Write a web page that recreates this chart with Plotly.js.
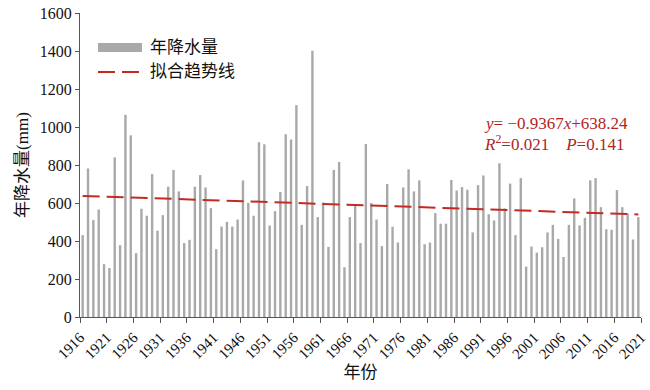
<!DOCTYPE html>
<html>
<head>
<meta charset="utf-8">
<script src="https://cdn.plot.ly/plotly-3.0.1.min.js"></script>
<style>html,body{margin:0;padding:0;background:#fff;}#chart{width:650px;height:390px;}</style>
</head>
<body>
<div id="chart"></div>
<script>
// Annual precipitation (mm), 1916-2020 (105 years)
const startYear = 1916;
const precipitation = [
  431, 782, 510, 566, 278, 258, 840, 378, 1064, 956,
  336, 570, 533, 752, 454, 536, 686, 774, 661, 389,
  406, 686, 747, 682, 573, 357, 476, 501, 476, 513,
  719, 601, 533, 920, 909, 482, 557, 658, 962, 934,
  1115, 485, 689, 1401, 526, 603, 369, 774, 816, 262,
  526, 585, 389, 911, 600, 513, 373, 700, 475, 392,
  682, 777, 661, 719, 383, 392, 547, 491, 491, 721,
  666, 684, 670, 445, 694, 745, 541, 508, 809, 571,
  702, 431, 731, 265, 371, 339, 367, 445, 485, 411,
  316, 485, 624, 482, 522, 719, 731, 578, 462, 459,
  668, 578, 545, 408, 526
];
const years = precipitation.map((v, i) => startYear + i);
// Fitted trend: y = slope * index + intercept (index = 1..n)
const slope = -0.9367;
const intercept = 638.24;
const trendX = [years[0], years[years.length - 1]];
const trendY = [slope * 1 + intercept, slope * precipitation.length + intercept];
// Tick labels (category boundaries every 5 years)
const tickLabels = ['1916','1921','1926','1931','1936','1941','1946','1951','1956','1961','1966','1971','1976','1981','1986','1991','1996','2001','2006','2011','2016','2021'];
const tickVals = tickLabels.map(t => Number(t) - 0.5);

const seriesNames = ['年降水量', '拟合趋势线'];
const barColor = '#a9a9a9';
const trendColor = '#c42a22';
const serif = 'Times New Roman, Liberation Serif, DejaVu Serif, Noto Sans CJK SC, serif';
const cjk = 'Times New Roman, Liberation Serif, DejaVu Serif, Noto Sans CJK SC, serif';

const traces = [
  {
    type: 'bar', x: years, y: precipitation, name: seriesNames[0],
    marker: {color: barColor, line: {width: 0}}, showlegend: false,
    hoverinfo: 'x+y'
  },
  {
    type: 'scatter', mode: 'lines', x: trendX, y: trendY, name: seriesNames[1],
    line: {color: trendColor, width: 2, dash: '17px,7px'}, showlegend: false
  }
];

const layout = {
  width: 650, height: 390,
  margin: {l: 80, r: 9, t: 13, b: 73},
  paper_bgcolor: '#fff', plot_bgcolor: '#fff',
  bargap: 0.55,
  showlegend: false,
  font: {family: serif},
  xaxis: {
    range: [startYear - 0.5, startYear + precipitation.length - 0.5],
    tickmode: 'array', tickvals: tickVals, ticktext: tickLabels,
    tickangle: -45, ticks: 'outside', ticklen: 5, tickcolor: '#555',
    showline: true, linecolor: '#555', linewidth: 1,
    showgrid: false, zeroline: false,
    tickfont: {family: serif, size: 15, color: '#111'},
    title: {text: '年份', font: {family: cjk, size: 17, color: '#111'}, standoff: 4}
  },
  yaxis: {
    range: [0, 1600], dtick: 200, tick0: 0,
    ticks: 'outside', ticklen: 4, tickcolor: '#555',
    showline: true, linecolor: '#555', linewidth: 1,
    showgrid: false, zeroline: false,
    tickfont: {family: serif, size: 16, color: '#111'},
    title: {text: '年降水量(mm)', font: {family: cjk, size: 17, color: '#111'}, standoff: 6}
  },
  shapes: [
    {type: 'rect', xref: 'paper', yref: 'paper', x0: 0.0321, x1: 0.1105, y0: 0.872, y1: 0.901,
     fillcolor: barColor, line: {width: 0}},
    {type: 'line', xref: 'paper', yref: 'paper', x0: 0.0321, x1: 0.108, y0: 0.806, y1: 0.806,
     line: {color: trendColor, width: 2, dash: '17px,7px'}}
  ],
  annotations: [
    {xref: 'paper', yref: 'paper', x: 0.1212, y: 0.886, xanchor: 'left', yanchor: 'middle',
     text: seriesNames[0], showarrow: false, font: {family: cjk, size: 17, color: '#111'}},
    {xref: 'paper', yref: 'paper', x: 0.1212, y: 0.806, xanchor: 'left', yanchor: 'middle',
     text: seriesNames[1], showarrow: false, font: {family: cjk, size: 17, color: '#111'}},
    {xref: 'paper', yref: 'paper', x: 0.716, y: 0.638, xanchor: 'left', yanchor: 'middle',
     text: '<i>y</i>= \u22120.9367<i>x</i>+638.24', showarrow: false,
     font: {family: serif, size: 17, color: '#b3241e'}},
    {xref: 'paper', yref: 'paper', x: 0.716, y: 0.572, xanchor: 'left', yanchor: 'middle',
     text: '<i>R</i><sup>2</sup>=0.021&nbsp;&nbsp;&nbsp;&nbsp;<i>P</i>=0.141', showarrow: false,
     font: {family: serif, size: 17, color: '#b3241e'}}
  ]
};

Plotly.newPlot('chart', traces, layout, {displayModeBar: false, staticPlot: true});
</script>
</body>
</html>
